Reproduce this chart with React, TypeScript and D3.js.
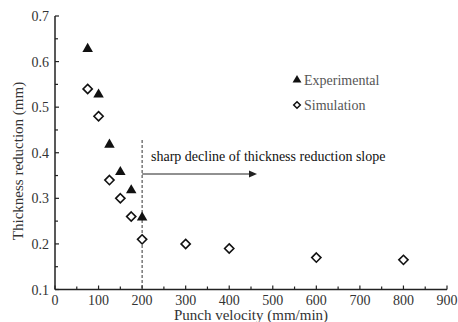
import React from "react";
import * as d3 from "d3";

const expX = [75, 100, 125, 150, 175, 200];
const expY = [0.63, 0.53, 0.42, 0.36, 0.32, 0.26];
const simX = [75, 100, 125, 150, 175, 200, 300, 400, 600, 800];
const simY = [0.54, 0.48, 0.34, 0.30, 0.26, 0.21, 0.20, 0.19, 0.17, 0.165];
const xTicks = [0, 100, 200, 300, 400, 500, 600, 700, 800, 900];
const yTicks = [0.1, 0.2, 0.3, 0.4, 0.5, 0.6, 0.7];
const xLabel = "Punch velocity (mm/min)";
const yLabel = "Thickness reduction (mm)";
const legendLabels = ["Experimental", "Simulation"];
const annotation = "sharp decline of thickness reduction slope";

const W = 458, H = 322;
const FONT = "Liberation Serif, Times New Roman, serif";

const diamond = (r: number) => `M0,${-r}L${r},0L0,${r}L${-r},0Z`;

export default function App() {
  const x = d3.scaleLinear().domain([0, 900]).range([55, 447]);
  const y = d3.scaleLinear().domain([0.1, 0.7]).range([289.5, 16]);
  const tri = d3.symbol().type(d3.symbolTriangle).size(48)() as string;
  const dia = diamond(4.6);
  const minorX = d3.range(50, 900, 100);
  const minorY = d3.range(0.15, 0.7, 0.1);
  const axisColor = "#222";
  return (
    <div style={{ position: "absolute", left: 0, top: 0 }}>
      <svg width={W} height={H} style={{ display: "block", background: "#fff", fontFamily: FONT }}>
        {/* axes */}
        <line x1={x(0)} x2={x(900)} y1={y(0.1)} y2={y(0.1)} stroke={axisColor} strokeWidth={1.5} />
        <line x1={x(0)} x2={x(0)} y1={y(0.1)} y2={y(0.7)} stroke={axisColor} strokeWidth={1.5} />
        {xTicks.map((t) => (
          <g key={"xt" + t}>
            <line x1={x(t)} x2={x(t)} y1={y(0.1)} y2={y(0.1) - 4} stroke={axisColor} strokeWidth={1.2} />
            <text x={x(t)} y={y(0.1) + 15} textAnchor="middle" fontSize={14} fill="#333">{t}</text>
          </g>
        ))}
        {minorX.map((t) => (
          <line key={"xm" + t} x1={x(t)} x2={x(t)} y1={y(0.1)} y2={y(0.1) - 3} stroke={axisColor} strokeWidth={1.2} />
        ))}
        {yTicks.map((t) => (
          <g key={"yt" + t}>
            <line x1={x(0)} x2={x(0) + 4} y1={y(t)} y2={y(t)} stroke={axisColor} strokeWidth={1.2} />
            <text x={x(0) - 6} y={y(t) + 5} textAnchor="end" fontSize={14} fill="#333">{t.toFixed(1)}</text>
          </g>
        ))}
        {minorY.map((t) => (
          <line key={"ym" + t} x1={x(0)} x2={x(0) + 3} y1={y(t)} y2={y(t)} stroke={axisColor} strokeWidth={1.2} />
        ))}
        <text x={(x(0) + x(900)) / 2} y={320} textAnchor="middle" fontSize={15} fill="#333">{xLabel}</text>
        <text transform={`translate(23,161) rotate(-90)`} textAnchor="middle" fontSize={15} fill="#333">{yLabel}</text>

        {/* annotation */}
        <line x1={x(200)} x2={x(200)} y1={140} y2={y(0.1)} stroke="#333" strokeWidth={1} strokeDasharray="3,2" />
        <text x={151} y={161} fontSize={14} fill="#111">{annotation}</text>
        <line x1={x(200)} x2={252} y1={174} y2={174} stroke="#222" strokeWidth={1} />
        <path d={`M257,174 L249,170.5 L249,177.5 Z`} fill="#222" />

        {/* data */}
        {simX.map((v, i) => (
          <path key={"s" + i} d={dia} transform={`translate(${x(v)},${y(simY[i])})`} fill="#fff" stroke="#111" strokeWidth={1.6} />
        ))}
        {expX.map((v, i) => (
          <path key={"e" + i} d={tri} transform={`translate(${x(v)},${y(expY[i]) + 1})`} fill="#111" />
        ))}

        {/* legend */}
        <path d={d3.symbol().type(d3.symbolTriangle).size(34)() as string} transform="translate(297,80)" fill="#111" />
        <text x={304} y={84.5} fontSize={14} fill="#555">{legendLabels[0]}</text>
        <path d={diamond(3.3)} transform="translate(297,105)" fill="#fff" stroke="#111" strokeWidth={1.5} />
        <text x={304} y={109.5} fontSize={14} fill="#555">{legendLabels[1]}</text>
      </svg>
    </div>
  );
}
